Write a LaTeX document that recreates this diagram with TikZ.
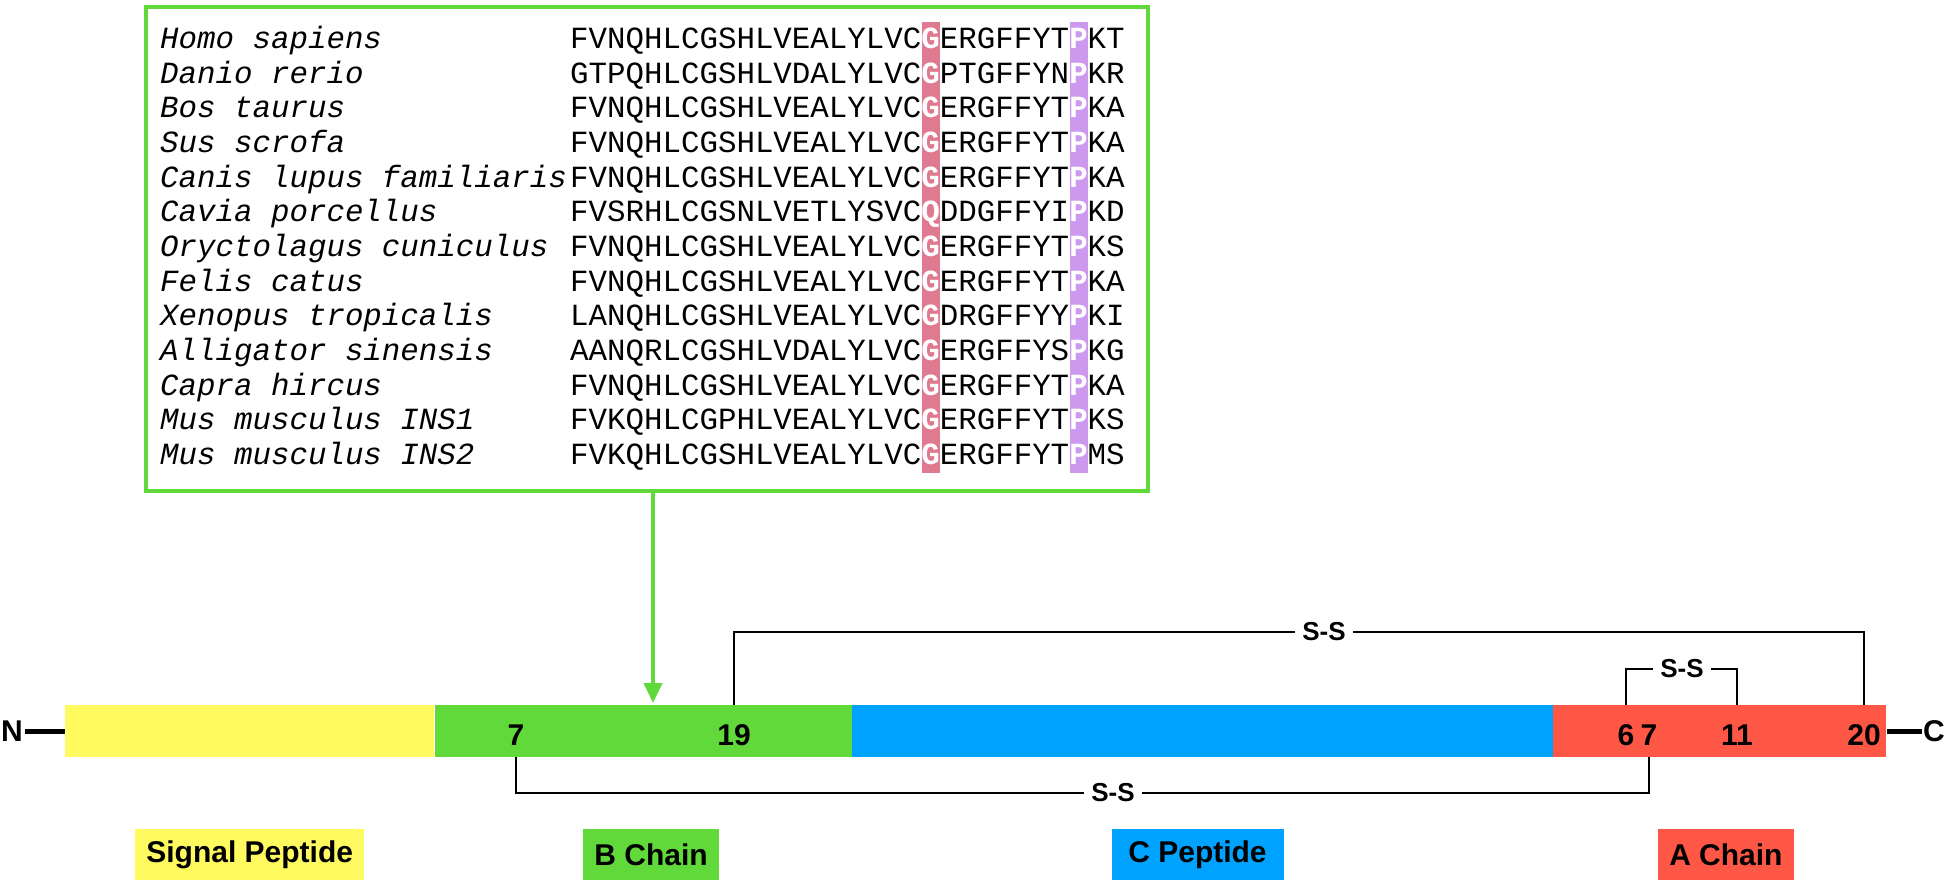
\documentclass[tikz,border=0pt]{standalone}
\usepackage{fontspec}
\setmainfont{Liberation Sans}
\newfontfamily\seqfont{Liberation Mono}
\usetikzlibrary{positioning,arrows.meta}

\definecolor{boxgreen}{HTML}{5FD83A}
\definecolor{sigyellow}{HTML}{FFFA5F}
\definecolor{bgreen}{HTML}{62D93A}
\definecolor{cblue}{HTML}{00A2FF}
\definecolor{ared}{HTML}{FF5745}
\definecolor{glyhl}{HTML}{E07A91}
\definecolor{prohl}{HTML}{CC99EE}

\tikzset{
  seg/.style={rectangle, inner sep=0pt, minimum height=52pt, anchor=west},
  resnum/.style={inner sep=0pt, font=\fontsize{30}{30}\selectfont\bfseries},
  keybox/.style={rectangle, inner xsep=11pt, inner ysep=0pt, minimum height=51pt,
    font=\fontsize{30}{30}\selectfont\bfseries},
  bond/.style={line width=1.6pt},
  sslabel/.style={fill=white, inner xsep=7pt, inner ysep=2pt, font=\fontsize{26}{26}\selectfont\bfseries},
  species/.style={anchor=base west, inner sep=0pt, font=\fontsize{30.8}{30.8}\selectfont\seqfont\itshape},
  seqtext/.style={anchor=base west, inner sep=0pt, font=\fontsize{30.8}{30.8}\selectfont\seqfont},
  terminal/.style={line width=5pt},
}

\begin{document}
\begin{tikzpicture}[x=1pt,y=-1pt]
                \useasboundingbox (0,0) rectangle (1950,885);

                % 比对框
                \node (alignbox) [draw=boxgreen, line width=4pt, minimum width=1002pt,
                  minimum height=484pt, anchor=north west, inner sep=0pt] at (144,5) {};

                % 高亮列 G 和 P
                \pgfmathsetmacro{\cw}{18.5} % 字符宽度
                \pgfmathsetmacro{\sx}{570} % 序列起点
                \fill[glyhl] (\sx+19*\cw,22) rectangle (\sx+20*\cw,473);
                \fill[prohl] (\sx+27*\cw,22) rectangle (\sx+28*\cw,473);

                % 物种名和序列
                \foreach \sp/\pre/\hg/\mid/\post [count=\i] in {
                  Homo sapiens/FVNQHLCGSHLVEALYLVC/G/ERGFFYT/KT,
                  Danio rerio/GTPQHLCGSHLVDALYLVC/G/PTGFFYN/KR,
                  Bos taurus/FVNQHLCGSHLVEALYLVC/G/ERGFFYT/KA,
                  Sus scrofa/FVNQHLCGSHLVEALYLVC/G/ERGFFYT/KA,
                  Canis lupus familiaris/FVNQHLCGSHLVEALYLVC/G/ERGFFYT/KA,
                  Cavia porcellus/FVSRHLCGSNLVETLYSVC/Q/DDGFFYI/KD,
                  Oryctolagus cuniculus/FVNQHLCGSHLVEALYLVC/G/ERGFFYT/KS,
                  Felis catus/FVNQHLCGSHLVEALYLVC/G/ERGFFYT/KA,
                  Xenopus tropicalis/LANQHLCGSHLVEALYLVC/G/DRGFFYY/KI,
                  Alligator sinensis/AANQRLCGSHLVDALYLVC/G/ERGFFYS/KG,
                  Capra hircus/FVNQHLCGSHLVEALYLVC/G/ERGFFYT/KA,
                  Mus musculus INS1/FVKQHLCGPHLVEALYLVC/G/ERGFFYT/KS,
                  Mus musculus INS2/FVKQHLCGSHLVEALYLVC/G/ERGFFYT/MS} {
                  \pgfmathsetmacro{\rowy}{48.5+(\i-1)*34.67}
                  \node (sp\i) [species] at (160,\rowy) {\sp};
                  \node (seq\i) [seqtext] at (\sx,\rowy)
                    {\pre\textcolor{white}{\bfseries\hg}\mid\textcolor{white}{\bfseries P}\post};
                }

                % 前体蛋白条
                \node (sig) [seg, fill=sigyellow, minimum width=369pt] at (65,731) {};
                \node (bch) [seg, fill=bgreen, minimum width=417pt, right=0pt of sig] {};
                \node (cpep) [seg, fill=cblue, minimum width=701pt, right=0pt of bch] {};
                \node (ach) [seg, fill=ared, minimum width=333pt, right=0pt of cpep] {};

                % N 端和 C 端
                \node (nterm) [resnum, anchor=east] at (23,731) {N};
                \node (cterm) [resnum, anchor=west] at (1923,731) {C};
                \draw[terminal] (nterm.east) ++(2,0) -- (sig.west);
                \draw[terminal] (ach.east) -- ([xshift=-1pt]cterm.west);

                % 残基编号
                \node (b7) [resnum] at (516,735) {7};
                \node (b19) [resnum] at (734,735) {19};
                \node (a6) [resnum] at (1626,735) {6};
                \node (a7) [resnum] at (1649,735) {7};
                \node (a11) [resnum] at (1737,735) {11};
                \node (a20) [resnum] at (1864,735) {20};

                % 放大箭头
                \coordinate (arrowtip) at (653,703);
                \draw[-{Triangle[length=20pt,width=18pt]}, boxgreen, line width=4pt]
                  (alignbox.south -| arrowtip) -- (arrowtip);

                % 二硫键
                \node (ss1) [sslabel] at (1324,632) {S-S};
                \node (ss2) [sslabel] at (1682,669) {S-S};
                \node (ss3) [sslabel] at (1113,793) {S-S};
                \draw[bond] (b19 |- bch.north) |- (ss1) -| (a20 |- ach.north);
                \draw[bond] (a6 |- ach.north) |- (ss2) -| (a11 |- ach.north);
                \draw[bond] (b7 |- bch.south) |- (ss3) -| (a7 |- ach.south);

                % 图例
                \node (sigkey) [keybox, fill=sigyellow, below=72pt of sig] {Signal Peptide};
                \node (bkey) [keybox, fill=bgreen, below=72pt of bch, xshift=8pt] {B Chain};
                \node (ckey) [keybox, fill=cblue, minimum width=172pt, below=72pt of cpep, xshift=-5pt] {C Peptide};
                \node (akey) [keybox, fill=ared, below=72pt of ach, xshift=6pt] {A Chain};
            \end{tikzpicture}
\end{document}
